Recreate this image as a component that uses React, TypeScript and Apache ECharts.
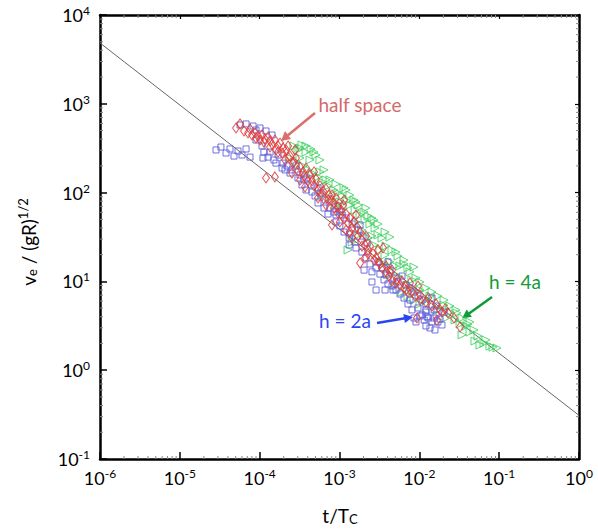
import React, { useEffect, useRef } from "react";
import * as echarts from "echarts";

const X_MIN = 1e-6;
const X_MAX = 1;
const Y_MIN = 0.1;
const Y_MAX = 1e4;

const xMajorExponents = [-6, -5, -4, -3, -2, -1, 0];
const yMajorExponents = [-1, 0, 1, 2, 3, 4];
const minorMultipliers = [2, 3, 4, 5, 6, 7, 8, 9];

// reference power-law line (end points read at the plot edges)
const fitLine: [number, number][] = [
  [1e-6, 4840],
  [1, 0.31],
];

// half space (red diamonds)
const halfSpace: [number, number][] = [
  [5.06e-5, 534], [5.68e-5, 593], [6.37e-5, 494], [7.57e-5, 520], [8.75e-5, 469], [9.54e-5, 434],
  [1.07e-4, 445], [1.16e-4, 401], [1.27e-4, 423], [1.35e-4, 381], [1.43e-4, 352], [1.55e-4, 391],
  [1.70e-4, 335], [1.80e-4, 361], [1.96e-4, 318], [2.14e-4, 302], [2.27e-4, 335], [1.20e-4, 146],
  [1.55e-4, 150], [2.08e-4, 233], [2.40e-4, 258], [2.61e-4, 215], [2.85e-4, 245], [3.20e-4, 194],
  [3.50e-4, 171], [3.81e-4, 189], [4.27e-4, 158], [4.53e-4, 135], [5.08e-4, 142], [5.70e-4, 119],
  [6.22e-4, 104], [6.78e-4, 110], [7.39e-4, 94], [7.82e-4, 82.6], [8.53e-4, 76.4], [9.04e-4, 86.9],
  [9.57e-4, 68.9], [1.05e-3, 63.7], [1.11e-3, 72.5], [1.21e-3, 57.4], [8.05e-4, 43.2], [1.35e-3, 51.8],
  [1.52e-3, 46.7], [1.66e-3, 41.0], [1.81e-3, 36.0], [1.91e-3, 29.2], [2.09e-3, 25.7], [2.28e-3, 22.6],
  [2.41e-3, 25.0], [2.63e-3, 20.4], [2.87e-3, 18.4], [3.12e-3, 16.6], [1.81e-3, 16.1], [2.09e-3, 18.4],
  [3.41e-3, 14.2], [3.83e-3, 12.8], [4.17e-3, 11.5], [4.55e-3, 10.1], [5.25e-3, 10.6], [5.73e-3, 9.1],
  [6.43e-3, 8.43], [7.64e-3, 9.6], [9.62e-3, 8.88], [8.82e-3, 6.85], [1.02e-2, 6.17], [1.21e-2, 5.86],
  [1.44e-2, 5.28], [2.10e-2, 4.9], [2.29e-2, 4.41], [9.35e-3, 3.87], [1.66e-2, 3.67], [3.24e-2, 3.07],
  [3.70e-4, 116], [5.38e-4, 86.9], [1.35e-3, 36.0], [3.51e-3, 23.8], [3.20e-4, 139], [2.54e-4, 166],
  [6.78e-4, 72.5], [1.01e-3, 46.7], [8.02e-5, 445], [1.01e-4, 391], [1.70e-4, 286], [2.77e-4, 302],
  [4.80e-4, 171], [8.05e-4, 94], [1.14e-3, 82.6], [1.61e-3, 56.0], [2.15e-3, 32.4], [3.04e-3, 22.6],
  [4.55e-3, 13.4], [7.21e-3, 7.6], [1.82e-2, 4.77],
  [7.15e-5, 469], [9.0e-5, 412], [1.13e-4, 371], [1.35e-4, 326], [1.60e-4, 302], [1.91e-4, 279],
  [2.27e-4, 251], [2.69e-4, 221], [3.02e-4, 175], [3.60e-4, 154], [4.03e-4, 135], [4.80e-4, 119],
  [5.38e-4, 107], [6.04e-4, 91.6], [7.18e-4, 82.6], [8.53e-4, 67.1], [9.57e-4, 58.9], [1.14e-3, 50.4],
  [1.28e-3, 45.5], [1.44e-3, 39.9], [1.71e-3, 32.4], [1.91e-3, 25.0], [2.28e-3, 20.4], [2.71e-3, 17.4],
  [3.21e-3, 15.7], [3.83e-3, 14.9], [4.29e-3, 12.8], [5.10e-3, 9.6], [6.07e-3, 10.1], [6.81e-3, 8.0],
  [8.09e-3, 7.6], [1.02e-2, 7.03], [1.29e-2, 6.5], [1.62e-2, 5.57], [1.92e-2, 4.52], [2.72e-2, 3.87],
  [1.44e-3, 30.8], [1.21e-3, 37.9],
];

// h = 2a (blue squares)
const h2a: [number, number][] = [
  [2.84e-5, 302], [3.27e-5, 326], [3.79e-5, 279], [4.25e-5, 310], [4.77e-5, 258], [5.36e-5, 294],
  [6.01e-5, 265], [6.75e-5, 310], [7.57e-5, 251], [5.68e-5, 577], [6.75e-5, 593], [8.26e-5, 562],
  [1.01e-4, 534], [1.20e-4, 494], [1.43e-4, 445], [1.10e-4, 245], [1.27e-4, 251], [1.13e-4, 286],
  [1.51e-4, 233], [1.70e-4, 265], [1.96e-4, 215], [2.20e-4, 199.5], [2.54e-4, 180], [2.85e-4, 199.5],
  [3.20e-4, 158], [3.60e-4, 139], [3.92e-4, 146], [4.40e-4, 122], [4.94e-4, 91.6], [5.70e-4, 99],
  [6.59e-4, 82.6], [7.60e-4, 67.1], [8.53e-4, 60.5], [9.57e-4, 70.7], [1.08e-3, 56.0], [1.21e-3, 51.8],
  [1.32e-3, 30.8], [1.57e-3, 27.8], [1.44e-3, 44.3], [1.71e-3, 37.9], [1.97e-3, 32.4], [2.21e-3, 27.1],
  [2.55e-3, 9.85], [2.87e-3, 8.0], [2.55e-3, 12.8], [3.04e-3, 16.6], [3.41e-3, 14.2], [3.83e-3, 11.8],
  [4.29e-3, 13.4], [4.82e-3, 10.9], [5.41e-3, 9.85], [6.07e-3, 11.5], [6.81e-3, 9.1], [7.64e-3, 8.43],
  [8.57e-3, 7.6], [9.62e-3, 6.85], [1.08e-2, 6.17], [1.21e-2, 5.57], [1.44e-2, 6.5], [1.62e-2, 5.28],
  [1.02e-2, 4.08], [1.15e-2, 3.67], [1.29e-2, 3.87], [1.44e-2, 3.49], [1.62e-2, 4.2], [1.82e-2, 3.77],
  [1.36e-2, 2.99], [1.57e-2, 2.84], [9.08e-3, 3.49], [4.68e-3, 8.0], [3.72e-3, 8.0], [1.32e-3, 25.7],
  [9.0e-5, 507], [2.08e-4, 180], [5.38e-4, 113], [9.04e-4, 56], [1.81e-3, 43.2], [4.05e-3, 16.6],
  [7.64e-3, 6.17], [1.21e-2, 4.52], [1.71e-2, 3.49], [2.04e-2, 4.52], [1.08e-2, 4.2], [1.53e-2, 3.87],
  [1.25e-2, 4.0],
  [9.0e-5, 391], [1.07e-4, 335], [1.35e-4, 286], [1.60e-4, 215], [1.91e-4, 189], [2.40e-4, 166],
  [3.02e-4, 146], [3.39e-4, 122], [3.81e-4, 107], [4.53e-4, 101.6], [5.38e-4, 76.4], [6.40e-4, 67.1],
  [7.18e-4, 57.4], [9.04e-4, 46.7], [1.01e-3, 42.1], [1.14e-3, 36.0], [1.35e-3, 34.2], [1.61e-3, 23.8],
  [1.91e-3, 21.4], [2.15e-3, 18.4], [2.41e-3, 15.7], [2.87e-3, 14.2], [3.21e-3, 12.1], [3.61e-3, 10.4],
  [4.05e-3, 9.35], [4.55e-3, 8.88], [5.10e-3, 8.0], [5.73e-3, 7.21], [6.43e-3, 6.5], [7.21e-3, 5.57],
  [8.09e-3, 4.77], [9.62e-3, 5.02], [1.21e-2, 4.77], [1.53e-2, 4.77], [1.92e-2, 3.23], [8.57e-3, 3.87],
  [1.21e-2, 3.15], [2.03e-3, 13.4], [1.01e-3, 60.5],
];

// h = 4a (green right-pointing triangles)
const h4a: [number, number][] = [
  [2.69e-4, 335], [3.02e-4, 302], [3.39e-4, 344], [3.81e-4, 286], [4.40e-4, 310], [5.08e-4, 265],
  [2.40e-4, 245], [2.85e-4, 221], [3.50e-4, 199.5], [4.03e-4, 180], [4.53e-4, 166], [5.38e-4, 150],
  [6.04e-4, 132], [7.18e-4, 119], [8.53e-4, 107], [9.57e-4, 99], [1.08e-3, 91.6], [1.24e-3, 80.5],
  [1.35e-3, 72.5], [1.57e-3, 63.7], [1.81e-3, 56.0], [2.09e-3, 49.1], [2.41e-3, 44.3], [2.79e-3, 39.9],
  [1.28e-3, 22.6], [1.44e-3, 27.8], [1.71e-3, 33.3], [1.91e-3, 37.9], [2.28e-3, 30.8], [2.71e-3, 25.7],
  [3.21e-3, 22.6], [3.72e-3, 19.8], [4.29e-3, 16.6], [4.96e-3, 14.9], [5.73e-3, 14.9], [7.21e-3, 14.2],
  [8.57e-3, 14.5], [4.05e-3, 12.1], [4.96e-3, 9.1], [6.07e-3, 7.6], [7.21e-3, 6.85], [8.57e-3, 6.17],
  [1.02e-2, 5.57], [1.21e-2, 6.17], [1.44e-2, 5.28], [1.71e-2, 4.77], [2.04e-2, 5.4], [2.42e-2, 4.52],
  [2.80e-2, 3.67], [3.24e-2, 3.31], [3.85e-2, 3.15], [4.31e-2, 2.69], [4.98e-2, 2.13], [5.75e-2, 1.92],
  [6.84e-2, 2.19], [8.37e-2, 1.82], [9.39e-2, 1.78], [2.96e-2, 4.41], [7.0e-3, 9.1], [3.61e-3, 15.7],
  [7.60e-4, 86.9], [9.04e-4, 72.5], [1.08e-3, 63.7], [6.04e-4, 94], [3.72e-3, 36.0], [4.29e-3, 31.6],
  [3.20e-4, 245], [4.27e-4, 233], [6.78e-4, 139], [1.21e-3, 107], [1.61e-3, 78.4], [2.15e-3, 67.1],
  [2.55e-3, 51.8], [3.04e-3, 33.3], [5.10e-3, 21.4], [6.43e-3, 17.4], [8.09e-3, 10.4], [1.02e-2, 8.0],
  [1.36e-2, 6.85], [2.16e-2, 3.87], [3.43e-2, 2.5], [4.31e-2, 3.49],
  [3.20e-4, 318], [3.81e-4, 335], [4.80e-4, 286], [5.70e-4, 233], [6.40e-4, 180], [5.70e-4, 171],
  [7.60e-4, 139], [9.04e-4, 125], [1.14e-3, 113], [1.35e-3, 94], [1.52e-3, 82.6], [1.71e-3, 72.5],
  [2.03e-3, 60.5], [2.28e-3, 54.6], [2.71e-3, 49.1], [3.04e-3, 44.3], [3.41e-3, 30.8], [3.83e-3, 25.0],
  [4.55e-3, 22.6], [5.41e-3, 19.3], [6.43e-3, 15.7], [7.64e-3, 12.8], [9.08e-3, 10.9], [1.02e-2, 9.85],
  [1.21e-2, 8.43], [1.44e-2, 7.6], [1.71e-2, 6.85], [2.04e-2, 6.17], [2.42e-2, 5.28], [2.88e-2, 4.77],
  [3.43e-2, 3.87], [4.07e-2, 3.31], [4.84e-2, 2.84], [5.43e-2, 2.43], [6.46e-2, 2.02], [7.67e-2, 1.87],
  [1.01e-3, 78.4], [1.61e-3, 46.7], [2.55e-3, 32.4], [5.41e-3, 11.5], [8.09e-3, 8.0],
];

const FONT = 'Lato, "Open Sans", sans-serif';
const RED = "#e03a3a";
const BLUE = "#5a5ad8";
const GREEN = "#3ecf5e";

function minorValues(exps: number[]): number[] {
  const out: number[] = [];
  for (let i = 0; i < exps.length - 1; i++) {
    for (const m of minorMultipliers) out.push(m * Math.pow(10, exps[i]));
  }
  return out;
}

const labelRich = {
  b: { fontSize: 18, fontFamily: FONT, color: "#000" },
  s: { fontSize: 12, fontFamily: FONT, color: "#000", padding: [0, 0, 9, 0] },
};

const fmtPow = (v: number) => `{b|10}{s|${Math.round(Math.log10(v))}}`;

export default function App() {
  const ref = useRef<HTMLDivElement>(null);
  useEffect(() => {
    if (!ref.current) return;
    const chart = echarts.init(ref.current, null, { renderer: "svg" });
    const xMinor = minorValues(xMajorExponents).map((v) => [v, Y_MIN]);
    const yMinor = minorValues(yMajorExponents).map((v) => [X_MIN, v]);
    const tickStyle = { stroke: "#888", lineWidth: 1 };

    const axisCommon = {
      type: "log" as const,
      logBase: 10,
      splitLine: { show: false },
      axisLine: { show: true, lineStyle: { color: "#000", width: 2.5 } },
    };

    chart.setOption({
      animation: false,
      backgroundColor: "#fff",
      grid: { left: 100, right: 19, top: 15, bottom: 72, containLabel: false, outerBoundsMode: "none" },
      xAxis: [
        {
          ...axisCommon,
          min: X_MIN,
          max: X_MAX,
          position: "bottom",
          axisTick: { show: true, inside: true, length: 7, lineStyle: { color: "#000", width: 1.5 } },
          axisLabel: { show: true, margin: 8, formatter: fmtPow, rich: labelRich, showMinLabel: true, showMaxLabel: true },
        },
        {
          ...axisCommon,
          min: X_MIN,
          max: X_MAX,
          position: "top",
          axisTick: { show: true, inside: true, length: 4, lineStyle: { color: "#000", width: 1.2 } },
          axisLabel: { show: false },
        },
      ],
      yAxis: [
        {
          ...axisCommon,
          min: Y_MIN,
          max: Y_MAX,
          position: "left",
          axisTick: { show: true, inside: true, length: 7, lineStyle: { color: "#000", width: 1.5 } },
          axisLabel: { show: true, margin: 10, formatter: fmtPow, rich: labelRich, showMinLabel: true, showMaxLabel: true },
        },
        {
          ...axisCommon,
          min: Y_MIN,
          max: Y_MAX,
          position: "right",
          axisTick: { show: true, inside: true, length: 4, lineStyle: { color: "#000", width: 1.2 } },
          axisLabel: { show: false },
        },
      ],
      series: [
        {
          type: "custom",
          data: xMinor,
          silent: true,
          renderItem: (_p: any, api: any) => {
            const v = api.value(0);
            const b = api.coord([v, Y_MIN]);
            const t = api.coord([v, Y_MAX]);
            return {
              type: "group",
              children: [
                { type: "line", shape: { x1: b[0], y1: b[1], x2: b[0], y2: b[1] - 3 }, style: tickStyle },
                { type: "line", shape: { x1: t[0], y1: t[1], x2: t[0], y2: t[1] + 3 }, style: tickStyle },
              ],
            };
          },
        },
        {
          type: "custom",
          data: yMinor,
          silent: true,
          renderItem: (_p: any, api: any) => {
            const v = api.value(1);
            const l = api.coord([X_MIN, v]);
            const r = api.coord([X_MAX, v]);
            return {
              type: "group",
              children: [
                { type: "line", shape: { x1: l[0], y1: l[1], x2: l[0] + 3, y2: l[1] }, style: tickStyle },
                { type: "line", shape: { x1: r[0], y1: r[1], x2: r[0] - 3, y2: r[1] }, style: tickStyle },
              ],
            };
          },
        },
        {
          type: "line",
          data: fitLine,
          symbol: "none",
          silent: true,
          lineStyle: { color: "#666", width: 1 },
          z: 1,
        },
        {
          type: "scatter",
          name: "h = 4a",
          data: h4a,
          symbol: "triangle",
          symbolRotate: -90,
          symbolSize: 8,
          itemStyle: { color: "rgba(0,0,0,0)", borderColor: GREEN, borderWidth: 1, opacity: 0.85 },
          z: 2,
        },
        {
          type: "scatter",
          name: "h = 2a",
          data: h2a,
          symbol: "rect",
          symbolSize: 6,
          itemStyle: { color: "rgba(0,0,0,0)", borderColor: BLUE, borderWidth: 1, opacity: 0.85 },
          z: 3,
        },
        {
          type: "scatter",
          name: "half space",
          data: halfSpace,
          symbol: "diamond",
          symbolSize: [7, 10],
          itemStyle: { color: "rgba(0,0,0,0)", borderColor: RED, borderWidth: 1, opacity: 0.85 },
          z: 4,
        },
      ],
      graphic: [
        {
          type: "text",
          x: 340,
          y: 515,
          style: {
            text: "{n|t/T}{sub|C}",
            align: "center",
            verticalAlign: "middle",
            rich: {
              n: { fontSize: 19, fontFamily: FONT, color: "#000" },
              sub: { fontSize: 13, fontFamily: FONT, color: "#000", padding: [8, 0, 0, 0] },
            },
          },
        },
        {
          type: "text",
          x: 28,
          y: 242,
          rotation: Math.PI / 2,
          style: {
            text: "{n|v}{sub|e}{n| / (gR)}{sup|1/2}",
            align: "center",
            verticalAlign: "middle",
            rich: {
              n: { fontSize: 19, fontFamily: FONT, color: "#000" },
              sub: { fontSize: 13, fontFamily: FONT, color: "#000", padding: [8, 0, 0, 0] },
              sup: { fontSize: 13, fontFamily: FONT, color: "#000", padding: [0, 0, 10, 0] },
            },
          },
        },
        {
          type: "text",
          x: 360,
          y: 104,
          style: { text: "half space", fontSize: 19, fontFamily: FONT, fill: "#d46a6a", align: "center", verticalAlign: "middle" },
        },
        {
          type: "line",
          shape: { x1: 315, y1: 113, x2: 287, y2: 136 },
          style: { stroke: "#d9706a", lineWidth: 2.5 },
        },
        {
          type: "polygon",
          shape: { points: [[281, 141], [291, 139], [285, 131]] },
          style: { fill: "#d9706a" },
        },
        {
          type: "text",
          x: 345,
          y: 320,
          style: { text: "h = 2a", fontSize: 19, fontFamily: FONT, fill: "#2a46f0", align: "center", verticalAlign: "middle" },
        },
        {
          type: "line",
          shape: { x1: 377, y1: 323, x2: 405, y2: 318.3 },
          style: { stroke: "#2a46f0", lineWidth: 2.5 },
        },
        {
          type: "polygon",
          shape: { points: [[413, 317], [404.9, 322.9], [403.3, 314.1]] },
          style: { fill: "#2a46f0" },
        },
        {
          type: "text",
          x: 515,
          y: 281,
          style: { text: "h = 4a", fontSize: 19, fontFamily: FONT, fill: "#119a38", align: "center", verticalAlign: "middle" },
        },
        {
          type: "line",
          shape: { x1: 492, y1: 297, x2: 469, y2: 313.5 },
          style: { stroke: "#119a38", lineWidth: 2.5 },
        },
        {
          type: "polygon",
          shape: { points: [[462, 318.5], [471.9, 316.8], [466.7, 309.6]] },
          style: { fill: "#119a38" },
        },
      ],
    });
    return () => chart.dispose();
  }, []);
  return (
    <div
      ref={ref}
      style={{ position: "fixed", left: 0, top: 0, width: 598, height: 531, background: "#fff" }}
    />
  );
}
